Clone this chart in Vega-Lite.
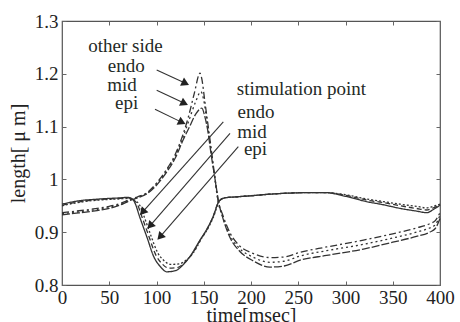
{
  "$schema": "https://vega.github.io/schema/vega-lite/v6.json",
  "width": 378,
  "height": 264,
  "autosize": {"type": "none"},
  "padding": {"left": 62, "top": 21, "right": 20, "bottom": 37},
  "background": "white",
  "config": {
    "view": {"stroke": "#555", "strokeWidth": 1.2},
    "font": "Liberation Serif",
    "axis": {
      "grid": false,
      "domain": false,
      "tickColor": "#666",
      "tickSize": -4,
      "labelFont": "Liberation Serif",
      "labelFontSize": 19,
      "labelColor": "#222",
      "labelFlush": false,
      "titleFont": "Liberation Serif",
      "titleFontSize": 20,
      "titleFontWeight": "normal",
      "titleColor": "#222"
    }
  },
  "datasets": {
    "curves": [
      {"series": "other endo", "t": 0, "v": 0.937}, {"series": "other endo", "t": 15, "v": 0.94}, {"series": "other endo", "t": 33, "v": 0.944}, {"series": "other endo", "t": 50, "v": 0.949}, {"series": "other endo", "t": 61, "v": 0.954}, {"series": "other endo", "t": 72, "v": 0.962}, {"series": "other endo", "t": 80, "v": 0.967}, {"series": "other endo", "t": 90, "v": 0.975}, {"series": "other endo", "t": 100, "v": 0.993}, {"series": "other endo", "t": 110, "v": 1.017}, {"series": "other endo", "t": 120, "v": 1.048}, {"series": "other endo", "t": 128, "v": 1.085}, {"series": "other endo", "t": 134, "v": 1.12}, {"series": "other endo", "t": 140, "v": 1.163}, {"series": "other endo", "t": 146, "v": 1.201}, {"series": "other endo", "t": 148, "v": 1.19}, {"series": "other endo", "t": 151, "v": 1.15}, {"series": "other endo", "t": 154, "v": 1.11}, {"series": "other endo", "t": 157, "v": 1.07}, {"series": "other endo", "t": 161, "v": 1.015}, {"series": "other endo", "t": 165, "v": 0.962}, {"series": "other endo", "t": 170, "v": 0.933}, {"series": "other endo", "t": 178, "v": 0.898}, {"series": "other endo", "t": 188, "v": 0.874}, {"series": "other endo", "t": 202, "v": 0.86}, {"series": "other endo", "t": 220, "v": 0.852}, {"series": "other endo", "t": 235, "v": 0.853}, {"series": "other endo", "t": 252, "v": 0.862}, {"series": "other endo", "t": 280, "v": 0.872}, {"series": "other endo", "t": 319, "v": 0.885}, {"series": "other endo", "t": 350, "v": 0.897}, {"series": "other endo", "t": 375, "v": 0.908}, {"series": "other endo", "t": 389, "v": 0.916}, {"series": "other endo", "t": 395, "v": 0.922}, {"series": "other endo", "t": 400, "v": 0.937},
      {"series": "other mid", "t": 0, "v": 0.935}, {"series": "other mid", "t": 15, "v": 0.938}, {"series": "other mid", "t": 33, "v": 0.942}, {"series": "other mid", "t": 50, "v": 0.947}, {"series": "other mid", "t": 61, "v": 0.952}, {"series": "other mid", "t": 72, "v": 0.961}, {"series": "other mid", "t": 80, "v": 0.966}, {"series": "other mid", "t": 90, "v": 0.974}, {"series": "other mid", "t": 100, "v": 0.991}, {"series": "other mid", "t": 110, "v": 1.015}, {"series": "other mid", "t": 120, "v": 1.045}, {"series": "other mid", "t": 128, "v": 1.08}, {"series": "other mid", "t": 134, "v": 1.11}, {"series": "other mid", "t": 141, "v": 1.145}, {"series": "other mid", "t": 147, "v": 1.166}, {"series": "other mid", "t": 150, "v": 1.15}, {"series": "other mid", "t": 153, "v": 1.115}, {"series": "other mid", "t": 157, "v": 1.065}, {"series": "other mid", "t": 161, "v": 1.012}, {"series": "other mid", "t": 165, "v": 0.96}, {"series": "other mid", "t": 170, "v": 0.93}, {"series": "other mid", "t": 178, "v": 0.893}, {"series": "other mid", "t": 188, "v": 0.869}, {"series": "other mid", "t": 202, "v": 0.853}, {"series": "other mid", "t": 220, "v": 0.843}, {"series": "other mid", "t": 235, "v": 0.845}, {"series": "other mid", "t": 252, "v": 0.855}, {"series": "other mid", "t": 280, "v": 0.865}, {"series": "other mid", "t": 319, "v": 0.877}, {"series": "other mid", "t": 350, "v": 0.889}, {"series": "other mid", "t": 375, "v": 0.9}, {"series": "other mid", "t": 389, "v": 0.908}, {"series": "other mid", "t": 395, "v": 0.914}, {"series": "other mid", "t": 400, "v": 0.932},
      {"series": "other epi", "t": 0, "v": 0.933}, {"series": "other epi", "t": 15, "v": 0.936}, {"series": "other epi", "t": 33, "v": 0.94}, {"series": "other epi", "t": 50, "v": 0.945}, {"series": "other epi", "t": 61, "v": 0.951}, {"series": "other epi", "t": 72, "v": 0.96}, {"series": "other epi", "t": 80, "v": 0.965}, {"series": "other epi", "t": 90, "v": 0.973}, {"series": "other epi", "t": 100, "v": 0.989}, {"series": "other epi", "t": 110, "v": 1.012}, {"series": "other epi", "t": 120, "v": 1.041}, {"series": "other epi", "t": 128, "v": 1.074}, {"series": "other epi", "t": 135, "v": 1.1}, {"series": "other epi", "t": 142, "v": 1.125}, {"series": "other epi", "t": 148, "v": 1.135}, {"series": "other epi", "t": 151, "v": 1.12}, {"series": "other epi", "t": 154, "v": 1.095}, {"series": "other epi", "t": 158, "v": 1.045}, {"series": "other epi", "t": 162, "v": 1.0}, {"series": "other epi", "t": 166, "v": 0.955}, {"series": "other epi", "t": 170, "v": 0.928}, {"series": "other epi", "t": 178, "v": 0.889}, {"series": "other epi", "t": 188, "v": 0.864}, {"series": "other epi", "t": 202, "v": 0.846}, {"series": "other epi", "t": 220, "v": 0.834}, {"series": "other epi", "t": 235, "v": 0.836}, {"series": "other epi", "t": 252, "v": 0.847}, {"series": "other epi", "t": 280, "v": 0.856}, {"series": "other epi", "t": 319, "v": 0.868}, {"series": "other epi", "t": 350, "v": 0.881}, {"series": "other epi", "t": 375, "v": 0.892}, {"series": "other epi", "t": 389, "v": 0.9}, {"series": "other epi", "t": 395, "v": 0.907}, {"series": "other epi", "t": 400, "v": 0.926},
      {"series": "stim endo", "t": 0, "v": 0.953}, {"series": "stim endo", "t": 10, "v": 0.957}, {"series": "stim endo", "t": 20, "v": 0.96}, {"series": "stim endo", "t": 33, "v": 0.962}, {"series": "stim endo", "t": 50, "v": 0.964}, {"series": "stim endo", "t": 61, "v": 0.965}, {"series": "stim endo", "t": 70, "v": 0.966}, {"series": "stim endo", "t": 75, "v": 0.962}, {"series": "stim endo", "t": 78, "v": 0.952}, {"series": "stim endo", "t": 82, "v": 0.93}, {"series": "stim endo", "t": 86, "v": 0.91}, {"series": "stim endo", "t": 90, "v": 0.89}, {"series": "stim endo", "t": 97, "v": 0.854}, {"series": "stim endo", "t": 104, "v": 0.835}, {"series": "stim endo", "t": 111, "v": 0.825}, {"series": "stim endo", "t": 120, "v": 0.827}, {"series": "stim endo", "t": 128, "v": 0.838}, {"series": "stim endo", "t": 135, "v": 0.853}, {"series": "stim endo", "t": 146, "v": 0.885}, {"series": "stim endo", "t": 153, "v": 0.905}, {"series": "stim endo", "t": 160, "v": 0.93}, {"series": "stim endo", "t": 166, "v": 0.958}, {"series": "stim endo", "t": 172, "v": 0.965}, {"series": "stim endo", "t": 185, "v": 0.967}, {"series": "stim endo", "t": 200, "v": 0.969}, {"series": "stim endo", "t": 220, "v": 0.972}, {"series": "stim endo", "t": 240, "v": 0.974}, {"series": "stim endo", "t": 260, "v": 0.975}, {"series": "stim endo", "t": 278, "v": 0.975}, {"series": "stim endo", "t": 300, "v": 0.968}, {"series": "stim endo", "t": 322, "v": 0.958}, {"series": "stim endo", "t": 340, "v": 0.952}, {"series": "stim endo", "t": 358, "v": 0.945}, {"series": "stim endo", "t": 375, "v": 0.94}, {"series": "stim endo", "t": 386, "v": 0.937}, {"series": "stim endo", "t": 393, "v": 0.943}, {"series": "stim endo", "t": 400, "v": 0.951},
      {"series": "stim mid", "t": 0, "v": 0.951}, {"series": "stim mid", "t": 10, "v": 0.955}, {"series": "stim mid", "t": 20, "v": 0.958}, {"series": "stim mid", "t": 33, "v": 0.961}, {"series": "stim mid", "t": 50, "v": 0.963}, {"series": "stim mid", "t": 61, "v": 0.964}, {"series": "stim mid", "t": 70, "v": 0.965}, {"series": "stim mid", "t": 76, "v": 0.961}, {"series": "stim mid", "t": 80, "v": 0.952}, {"series": "stim mid", "t": 84, "v": 0.932}, {"series": "stim mid", "t": 88, "v": 0.912}, {"series": "stim mid", "t": 92, "v": 0.892}, {"series": "stim mid", "t": 99, "v": 0.858}, {"series": "stim mid", "t": 106, "v": 0.84}, {"series": "stim mid", "t": 113, "v": 0.832}, {"series": "stim mid", "t": 122, "v": 0.833}, {"series": "stim mid", "t": 130, "v": 0.843}, {"series": "stim mid", "t": 137, "v": 0.857}, {"series": "stim mid", "t": 147, "v": 0.887}, {"series": "stim mid", "t": 154, "v": 0.907}, {"series": "stim mid", "t": 160, "v": 0.93}, {"series": "stim mid", "t": 166, "v": 0.958}, {"series": "stim mid", "t": 172, "v": 0.965}, {"series": "stim mid", "t": 185, "v": 0.967}, {"series": "stim mid", "t": 200, "v": 0.969}, {"series": "stim mid", "t": 220, "v": 0.972}, {"series": "stim mid", "t": 240, "v": 0.974}, {"series": "stim mid", "t": 260, "v": 0.975}, {"series": "stim mid", "t": 278, "v": 0.975}, {"series": "stim mid", "t": 300, "v": 0.97}, {"series": "stim mid", "t": 322, "v": 0.961}, {"series": "stim mid", "t": 340, "v": 0.956}, {"series": "stim mid", "t": 358, "v": 0.95}, {"series": "stim mid", "t": 375, "v": 0.945}, {"series": "stim mid", "t": 386, "v": 0.942}, {"series": "stim mid", "t": 393, "v": 0.946}, {"series": "stim mid", "t": 400, "v": 0.952},
      {"series": "stim epi", "t": 0, "v": 0.95}, {"series": "stim epi", "t": 10, "v": 0.954}, {"series": "stim epi", "t": 20, "v": 0.957}, {"series": "stim epi", "t": 33, "v": 0.96}, {"series": "stim epi", "t": 50, "v": 0.962}, {"series": "stim epi", "t": 61, "v": 0.963}, {"series": "stim epi", "t": 70, "v": 0.964}, {"series": "stim epi", "t": 77, "v": 0.96}, {"series": "stim epi", "t": 82, "v": 0.952}, {"series": "stim epi", "t": 86, "v": 0.934}, {"series": "stim epi", "t": 90, "v": 0.914}, {"series": "stim epi", "t": 94, "v": 0.894}, {"series": "stim epi", "t": 101, "v": 0.862}, {"series": "stim epi", "t": 108, "v": 0.846}, {"series": "stim epi", "t": 115, "v": 0.839}, {"series": "stim epi", "t": 124, "v": 0.84}, {"series": "stim epi", "t": 132, "v": 0.848}, {"series": "stim epi", "t": 139, "v": 0.861}, {"series": "stim epi", "t": 148, "v": 0.889}, {"series": "stim epi", "t": 155, "v": 0.909}, {"series": "stim epi", "t": 161, "v": 0.932}, {"series": "stim epi", "t": 166, "v": 0.958}, {"series": "stim epi", "t": 172, "v": 0.965}, {"series": "stim epi", "t": 185, "v": 0.967}, {"series": "stim epi", "t": 200, "v": 0.969}, {"series": "stim epi", "t": 220, "v": 0.972}, {"series": "stim epi", "t": 240, "v": 0.974}, {"series": "stim epi", "t": 260, "v": 0.975}, {"series": "stim epi", "t": 278, "v": 0.975}, {"series": "stim epi", "t": 300, "v": 0.971}, {"series": "stim epi", "t": 322, "v": 0.963}, {"series": "stim epi", "t": 340, "v": 0.958}, {"series": "stim epi", "t": 358, "v": 0.953}, {"series": "stim epi", "t": 375, "v": 0.949}, {"series": "stim epi", "t": 386, "v": 0.946}, {"series": "stim epi", "t": 393, "v": 0.949}, {"series": "stim epi", "t": 400, "v": 0.953}
    ],
    "arrows": [
      {"group": "other", "t": 100.2, "v": 1.207, "t2": 130.7, "v2": 1.182},
      {"group": "other", "t": 100.2, "v": 1.169, "t2": 129.6, "v2": 1.144},
      {"group": "other", "t": 98.4, "v": 1.133, "t2": 127.0, "v2": 1.108},
      {"group": "stim", "t": 170.7, "v": 1.109, "t2": 85.2, "v2": 0.938},
      {"group": "stim", "t": 177.8, "v": 1.087, "t2": 93.1, "v2": 0.912},
      {"group": "stim", "t": 186.6, "v": 1.062, "t2": 103.7, "v2": 0.891}
    ],
    "labels": [
      {"label": "other side", "t": 67.2, "v": 1.2407},
      {"label": "endo", "t": 68.0, "v": 1.204},
      {"label": "mid", "t": 63.5, "v": 1.168},
      {"label": "epi", "t": 68.4, "v": 1.133},
      {"label": "stimulation point", "t": 253.4, "v": 1.16},
      {"label": "endo", "t": 205.3, "v": 1.1157},
      {"label": "mid", "t": 201.0, "v": 1.078},
      {"label": "epi", "t": 204.8, "v": 1.046}
    ]
  },
  "layer": [
    {
      "data": {"name": "curves"},
      "mark": {"type": "line", "interpolate": "monotone", "color": "#333", "strokeWidth": 1.3},
      "encoding": {
        "x": {"field": "t", "type": "quantitative", "scale": {"domain": [0, 400], "nice": false},
          "axis": {"orient": "bottom", "values": [0, 50, 100, 150, 200, 250, 300, 350, 400], "labelPadding": 7, "title": "time[msec]", "titlePadding": -2}},
        "y": {"field": "v", "type": "quantitative", "scale": {"domain": [0.8, 1.3], "nice": false, "zero": false},
          "axis": {"orient": "left", "values": [0.8, 0.9, 1, 1.1, 1.2, 1.3], "format": ".1~f", "labelPadding": 8, "title": "length[ μ m]", "titlePadding": 6}},
        "strokeDash": {"field": "series", "type": "nominal",
          "scale": {"domain": ["other endo", "other mid", "other epi", "stim endo", "stim mid", "stim epi"],
                    "range": [[7, 3, 2, 3], [2, 3], [8, 2], [1, 0], [5, 3], [2, 2]]},
          "legend": null}
      }
    },
    {
      "data": {"name": "curves"},
      "mark": {"type": "line", "opacity": 0},
      "encoding": {
        "x": {"field": "t", "type": "quantitative", "axis": {"orient": "top", "values": [0, 50, 100, 150, 200, 250, 300, 350, 400], "labels": false, "title": null}},
        "y": {"field": "v", "type": "quantitative", "axis": {"orient": "right", "values": [0.8, 0.9, 1, 1.1, 1.2, 1.3], "labels": false, "title": null}}
      }
    },
    {
      "data": {"name": "arrows"},
      "mark": {"type": "rule", "color": "#333", "strokeWidth": 1.1},
      "encoding": {
        "x": {"field": "t", "type": "quantitative", "axis": null},
        "y": {"field": "v", "type": "quantitative", "axis": null},
        "x2": {"field": "t2"},
        "y2": {"field": "v2"}
      }
    },
    {
      "data": {"name": "arrows"},
      "mark": {"type": "point", "shape": "triangle-right", "filled": true, "color": "#222", "size": 80, "opacity": 1},
      "encoding": {
        "x": {"field": "t2", "type": "quantitative", "axis": null},
        "y": {"field": "v2", "type": "quantitative", "axis": null},
        "angle": {"field": "group", "type": "nominal", "scale": {"domain": ["other", "stim"], "range": [26, 132]}, "legend": null}
      }
    },
    {
      "data": {"name": "labels"},
      "mark": {"type": "text", "align": "center", "baseline": "alphabetic", "font": "Liberation Serif", "fontSize": 19, "color": "#1f2a26"},
      "encoding": {
        "x": {"field": "t", "type": "quantitative", "axis": null},
        "y": {"field": "v", "type": "quantitative", "axis": null},
        "text": {"field": "label", "type": "nominal"}
      }
    }
  ],
  "resolve": {"axis": {"x": "independent", "y": "independent"}}
}
